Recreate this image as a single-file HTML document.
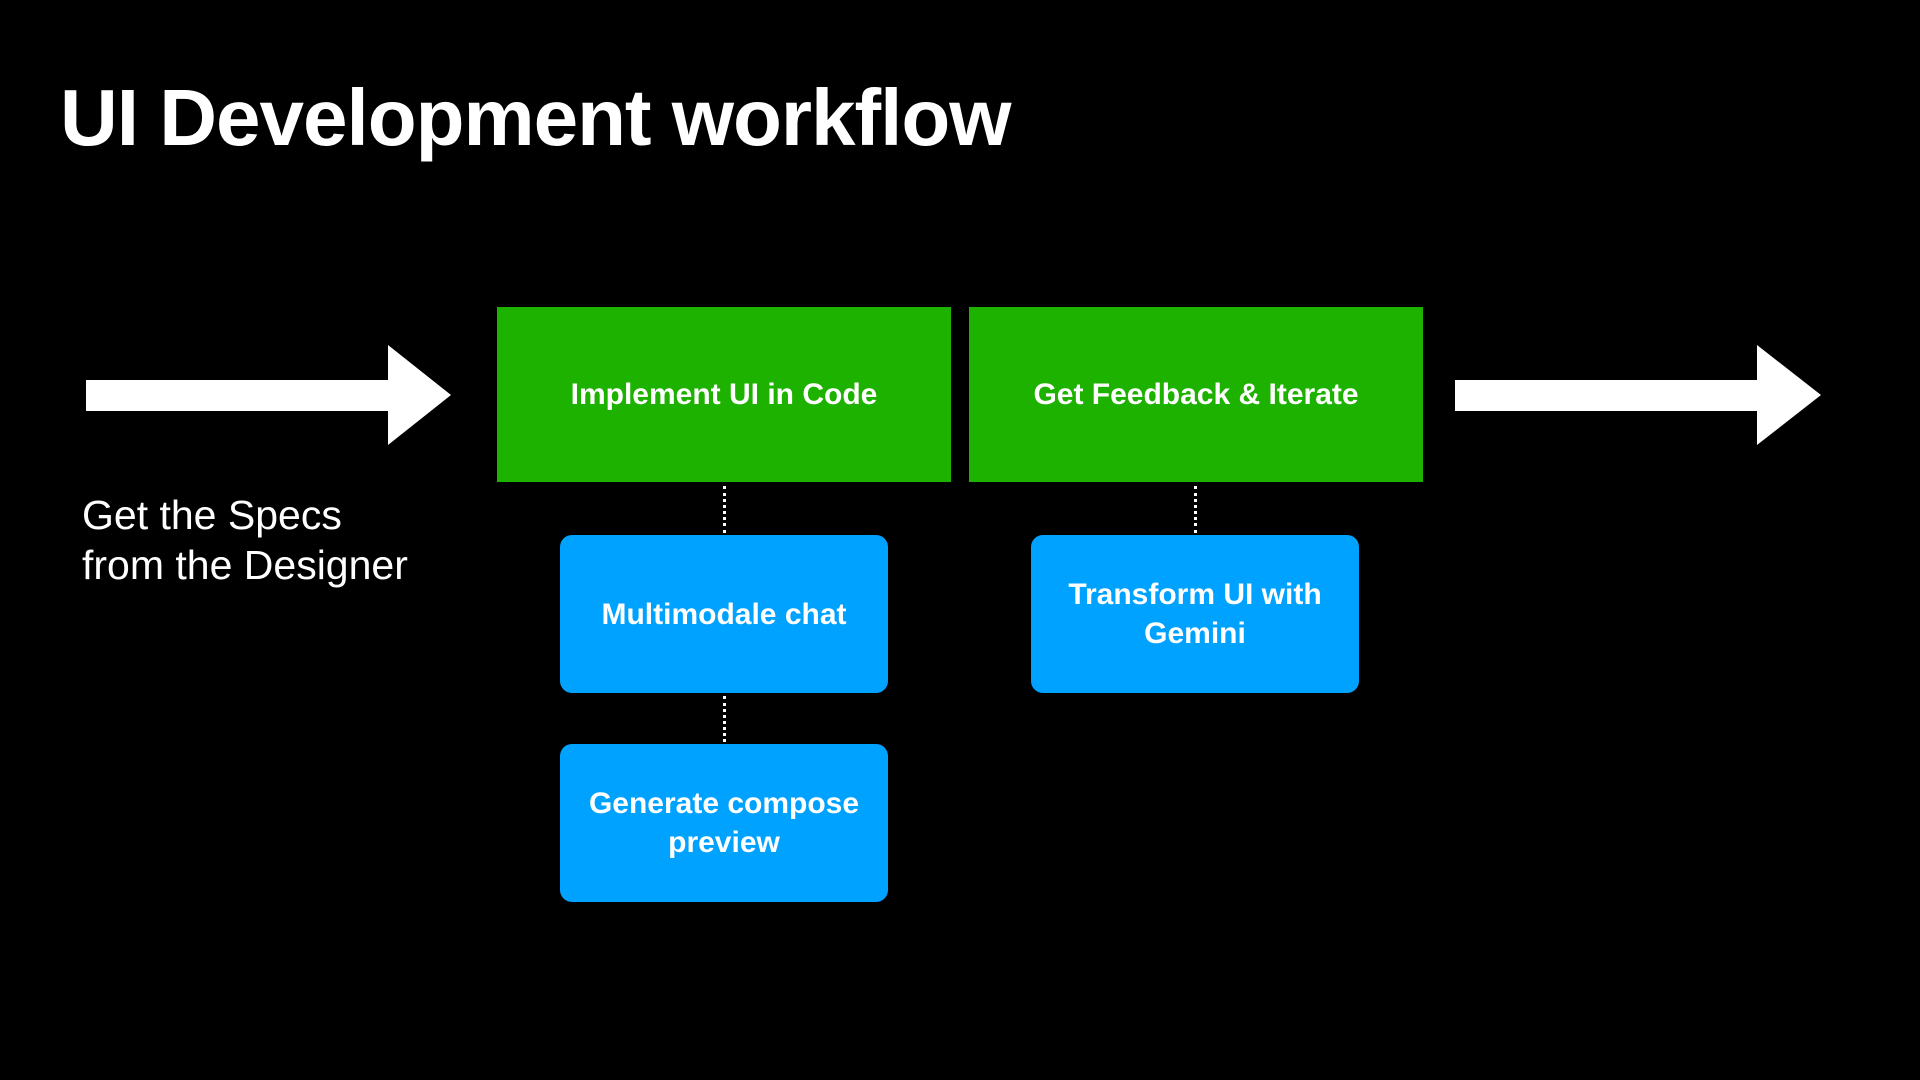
<!DOCTYPE html>
<html><head><meta charset="utf-8"><style>
body{margin:0;width:1920px;height:1080px;background:#000;position:relative;overflow:hidden;font-family:"Liberation Sans",Helvetica,Arial,sans-serif;color:#fff}
.a{position:absolute}
.title{left:60px;top:72px;font-size:80px;font-weight:bold;letter-spacing:-1px;white-space:nowrap}
.g{background:#1db100;display:flex;align-items:center;justify-content:center;font-size:30px;font-weight:bold;text-align:center}
.b{background:#00a2ff;border-radius:12px;display:flex;align-items:center;justify-content:center;font-size:30px;font-weight:bold;text-align:center;line-height:39px}
.d{border-left:3px dotted #fff;width:0}
</style></head><body>
<div class="a title">UI Development workflow</div>
<svg class="a" style="left:0;top:0" width="1920" height="1080">
<polygon fill="#fff" points="86,380 388,380 388,345 451,395 388,445 388,411 86,411"/>
<polygon fill="#fff" points="1455,380 1757,380 1757,345 1821,395 1757,445 1757,411 1455,411"/>
</svg>
<div class="a g" style="left:497px;top:307px;width:454px;height:175px">Implement UI in Code</div>
<div class="a g" style="left:969px;top:307px;width:454px;height:175px">Get Feedback &amp; Iterate</div>
<div class="a d" style="left:723px;top:486px;height:47px"></div>
<div class="a d" style="left:723px;top:696px;height:46px"></div>
<div class="a d" style="left:1194px;top:486px;height:47px"></div>
<div class="a b" style="left:560px;top:535px;width:328px;height:158px">Multimodale chat</div>
<div class="a b" style="left:1031px;top:535px;width:328px;height:158px">Transform UI with<br>Gemini</div>
<div class="a b" style="left:560px;top:744px;width:328px;height:158px">Generate compose<br>preview</div>
<div class="a" style="left:82px;top:490px;font-size:41px;line-height:50px">Get the Specs<br>from the Designer</div>
</body></html>
